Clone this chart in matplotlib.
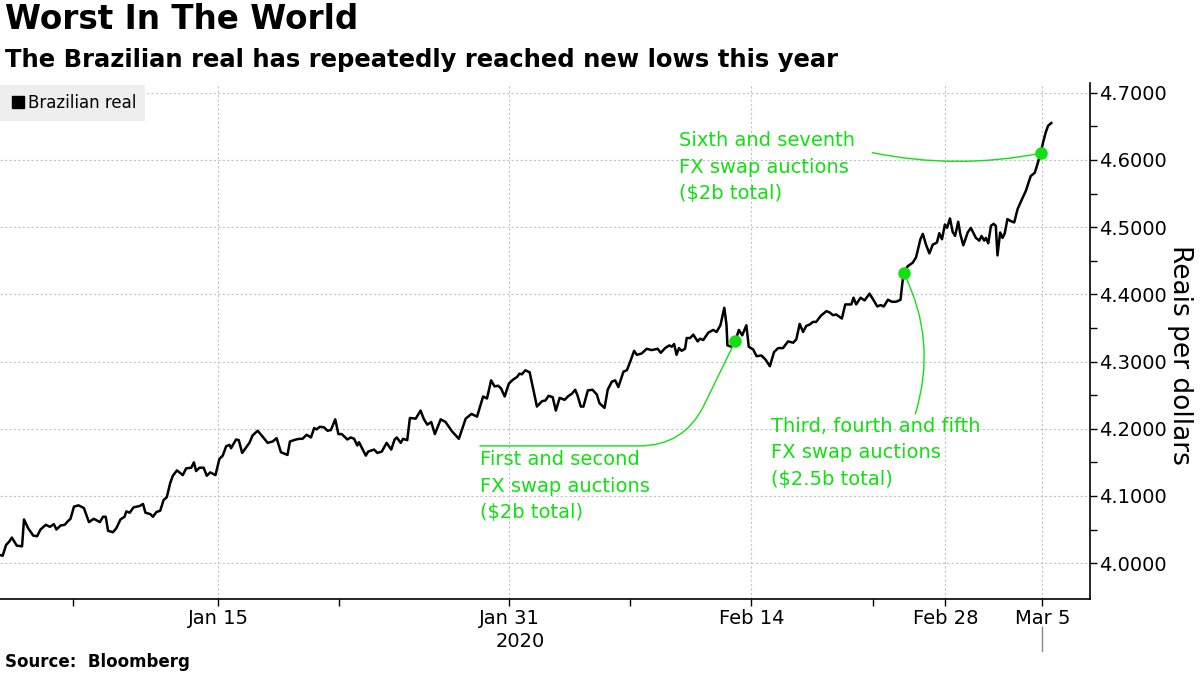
import matplotlib.pyplot as plt
from matplotlib.lines import Line2D
import matplotlib.transforms as mtransforms

# trading-day index (0 = Jan 2, weekends and Carnival skipped), reais per dollar
day = [0, 0.11, 0.25, 0.38, 0.49, 0.69, 0.91, 0.99, 1.16, 1.37, 1.53, 1.67, 1.89,
       2.06, 2.22, 2.33, 2.50, 2.67, 2.79, 2.91, 3.05, 3.24, 3.46, 3.67, 3.87,
       4.12, 4.25, 4.36, 4.46, 4.66, 4.80, 4.97, 5.14, 5.21, 5.35, 5.51, 5.76,
       5.90, 6.00, 6.20, 6.31, 6.45, 6.61, 6.75, 6.88, 7.02, 7.13, 7.30, 7.54,
       7.68, 7.89, 8.00, 8.09, 8.23, 8.40, 8.53, 8.67, 8.89, 9.05, 9.19, 9.33,
       9.47, 9.53, 9.74, 9.85, 9.99, 10.29, 10.42, 10.63, 10.84, 11.04, 11.25,
       11.41, 11.59, 11.86, 11.96, 12.21, 12.35, 12.48, 12.65, 12.83, 12.96,
       13.06, 13.20, 13.37, 13.51, 13.65, 13.83, 13.96, 14.10, 14.33, 14.47,
       14.61, 14.74, 14.81, 15.09, 15.19, 15.43, 15.57, 15.75, 15.95, 16.14,
       16.28, 16.37, 16.53, 16.63, 16.80, 16.91, 17.15, 17.35, 17.49, 17.63,
       17.79, 17.94, 18.18, 18.38, 18.65, 18.93, 19.21, 19.45, 19.68, 19.93,
       20.09, 20.26, 20.40, 20.55, 20.67, 20.82, 20.99, 21.16, 21.33, 21.43,
       21.53, 21.67, 21.85, 22.15, 22.36, 22.50, 22.63, 22.80, 22.93, 23.09,
       23.29, 23.46, 23.59, 23.73, 23.83, 23.96, 24.07, 24.25, 24.44, 24.62,
       24.73, 24.94, 25.07, 25.24, 25.38, 25.51, 25.72, 25.86, 26.00, 26.16,
       26.27, 26.47, 26.68, 26.88, 27.13, 27.26, 27.44, 27.61, 27.71, 27.81,
       27.91, 28.01, 28.12, 28.26, 28.33, 28.47, 28.60, 28.78, 28.88, 29.01,
       29.22, 29.42, 29.56, 29.72, 29.88, 29.97, 30.01, 30.18, 30.34, 30.48,
       30.62, 30.79, 30.89, 31.07, 31.21, 31.41, 31.58, 31.76, 31.93, 32.10,
       32.30, 32.51, 32.72, 32.85, 32.99, 33.13, 33.26, 33.40, 33.54, 33.67,
       33.86, 34.09, 34.23, 34.36, 34.50, 34.73, 34.87, 35.12, 35.21, 35.32,
       35.50, 35.67, 35.87, 36.01, 36.19, 36.33, 36.46, 36.63, 36.79, 36.97,
       37.15, 37.21, 37.28, 37.45, 37.65, 37.79, 37.97, 38.07, 38.20, 38.34,
       38.48, 38.65, 38.75, 38.86, 38.98, 39.07, 39.19, 39.30, 39.40, 39.53,
       39.62, 39.74, 39.92, 40.05, 40.26, 40.40, 40.49, 40.60, 40.67, 40.77,
       40.88, 40.99, 41.08, 41.15, 41.26, 41.36, 41.45, 41.56, 41.70, 41.84,
       41.98, 42.14, 42.32, 42.52, 42.69, 42.80, 42.93, 43.03, 43.14, 43.24, 43.37]
rate = [4.012, 4.011, 4.027, 4.032, 4.038, 4.026, 4.025, 4.065, 4.052, 4.041, 4.040, 4.050, 4.057,
        4.054, 4.058, 4.050, 4.056, 4.057, 4.062, 4.066, 4.084, 4.086, 4.082, 4.061, 4.066,
        4.061, 4.069, 4.069, 4.048, 4.046, 4.052, 4.065, 4.069, 4.077, 4.075, 4.083, 4.085,
        4.088, 4.075, 4.073, 4.069, 4.076, 4.078, 4.094, 4.098, 4.119, 4.130, 4.138, 4.131,
        4.141, 4.142, 4.150, 4.137, 4.142, 4.142, 4.130, 4.135, 4.131, 4.155, 4.160, 4.174,
        4.176, 4.171, 4.184, 4.183, 4.164, 4.179, 4.190, 4.197, 4.188, 4.179, 4.181,
        4.186, 4.165, 4.161, 4.181, 4.184, 4.185, 4.185, 4.191, 4.187, 4.201,
        4.199, 4.203, 4.202, 4.197, 4.198, 4.214, 4.192, 4.192, 4.184, 4.187,
        4.185, 4.175, 4.180, 4.160, 4.166, 4.169, 4.164, 4.166, 4.179, 4.169,
        4.184, 4.187, 4.179, 4.185, 4.183, 4.216, 4.215, 4.227, 4.214, 4.206,
        4.210, 4.192, 4.214, 4.210, 4.196, 4.185, 4.215, 4.222, 4.218, 4.248,
        4.245, 4.272, 4.263, 4.264, 4.260, 4.248, 4.267, 4.273, 4.277, 4.282,
        4.281, 4.287, 4.284, 4.233, 4.241, 4.242, 4.249, 4.247, 4.227, 4.246,
        4.243, 4.249, 4.252, 4.258, 4.249, 4.233, 4.233, 4.257, 4.258, 4.251,
        4.238, 4.231, 4.258, 4.270, 4.272, 4.262, 4.285, 4.287, 4.300, 4.316,
        4.310, 4.312, 4.319, 4.317, 4.319, 4.313, 4.320, 4.324, 4.322, 4.326,
        4.310, 4.320, 4.316, 4.319, 4.335, 4.335, 4.340, 4.330, 4.334, 4.332,
        4.343, 4.347, 4.344, 4.354, 4.380, 4.355, 4.324, 4.322, 4.331, 4.347,
        4.339, 4.354, 4.322, 4.318, 4.308, 4.309, 4.303, 4.293, 4.314, 4.320,
        4.320, 4.330, 4.328, 4.333, 4.356, 4.344, 4.353, 4.355, 4.359, 4.359,
        4.368, 4.375, 4.373, 4.369, 4.370, 4.364, 4.385, 4.385, 4.395, 4.385,
        4.395, 4.391, 4.401, 4.393, 4.382, 4.384, 4.382, 4.392, 4.389, 4.389,
        4.392, 4.412, 4.432, 4.442, 4.447, 4.455, 4.482, 4.490, 4.474, 4.461,
        4.474, 4.477, 4.491, 4.482, 4.504, 4.499, 4.513, 4.493, 4.487, 4.508,
        4.489, 4.473, 4.492, 4.499, 4.484, 4.480, 4.487, 4.480, 4.484, 4.476,
        4.502, 4.505, 4.502, 4.458, 4.492, 4.484, 4.491, 4.512, 4.509, 4.507,
        4.527, 4.540, 4.554, 4.576, 4.581, 4.594, 4.610, 4.626, 4.641, 4.651, 4.655]

# auction points (day, rate) and their labels
auction_day = [30.34, 37.28, 42.93]
auction_rate = [4.331, 4.432, 4.610]
auction_text = ['First and second\nFX swap auctions\n($2b total)',
                'Third, fourth and fifth\nFX swap auctions\n($2.5b total)',
                'Sixth and seventh\nFX swap auctions\n($2b total)']

tick_pos = [9, 21, 31, 39, 43]
tick_labels = ['Jan 15', 'Jan 31', 'Feb 14', 'Feb 28', 'Mar 5']
minor_pos = [3, 14, 26, 36]
yticks = [4.0, 4.1, 4.2, 4.3, 4.4, 4.5, 4.6, 4.7]

green = '#11e011'

fig = plt.figure(figsize=(12, 6.75), dpi=100)
ax = fig.add_axes([0, 0.112, 0.908, 0.765])

ax.plot(day, rate, color='black', lw=1.8, zorder=3)
ax.plot(auction_day, auction_rate, 'o', color=green, ms=8, zorder=4)

ax.set_xlim(0, 44.95)
ax.set_ylim(3.946, 4.7145)

ax.set_xticks(tick_pos)
ax.set_xticklabels(tick_labels)
ax.set_xticks(minor_pos, minor=True)
ax.set_yticks(yticks)
ax.set_yticks([4.05, 4.15, 4.25, 4.35, 4.45, 4.55, 4.65], minor=True)
ax.yaxis.set_major_formatter(plt.FormatStrFormatter('%.4f'))
ax.yaxis.tick_right()
ax.tick_params(axis='both', which='both', length=5, width=1, color='black')
ax.tick_params(axis='x', labelsize=14, pad=2)
ax.tick_params(axis='y', labelsize=14, pad=2)

ax.grid(True, which='major', color='#c4c4c4', linestyle=(0, (2, 2)), lw=0.8)
for s in ['top', 'left']:
    ax.spines[s].set_visible(False)
ax.spines['right'].set_linewidth(1.2)
ax.spines['bottom'].set_linewidth(1.2)

ax.set_ylabel('Reais per dollars', fontsize=19, rotation=270, labelpad=10)
ax.yaxis.set_label_position('right')
ax.yaxis.set_label_coords(1.095, 0.474)

trans = mtransforms.blended_transform_factory(ax.transData, ax.transAxes)
ax.text(21.45, -0.082, '2020', transform=trans, ha='center', va='center', fontsize=14)
ax.plot([43, 43], [-0.054, -0.10], transform=trans, color='#888888', lw=1, clip_on=False)

# annotations
ax.annotate(auction_text[0], xy=(auction_day[0], auction_rate[0]), xytext=(19.8, 4.168),
            fontsize=14, color=green, va='top', ha='left', linespacing=1.5,
            arrowprops=dict(arrowstyle='-', color=green, lw=1, shrinkA=0, shrinkB=0,
                            patchA=None, relpos=(0, 1.06),
                            connectionstyle='angle,angleA=0,angleB=64,rad=45'))
ax.annotate(auction_text[1], xy=(auction_day[1], auction_rate[1]), xytext=(31.8, 4.218),
            fontsize=14, color=green, va='top', ha='left', linespacing=1.5,
            arrowprops=dict(arrowstyle='-', color=green, lw=1, shrinkA=0, shrinkB=0,
                            patchA=None, relpos=(0.69, 1.04),
                            connectionstyle='arc3,rad=0.2'))
ax.annotate(auction_text[2], xy=(auction_day[2], auction_rate[2]), xytext=(28.0, 4.643),
            fontsize=14, color=green, va='top', ha='left', linespacing=1.5,
            arrowprops=dict(arrowstyle='-', color=green, lw=1, shrinkA=0, shrinkB=0,
                            patchA=None, relpos=(1.1, 0.7),
                            connectionstyle='arc3,rad=0.1'))

handle = Line2D([], [], marker='s', color='black', linestyle='none', markersize=9)
leg = ax.legend([handle], ['Brazilian real'], loc='upper left', bbox_to_anchor=(0, 0.997),
                borderaxespad=0, fontsize=12, frameon=True, facecolor='#eeeeee',
                edgecolor='none', fancybox=False, framealpha=1, handletextpad=0.1,
                handlelength=1.0, borderpad=0.55)

fig.text(0.004, 0.995, 'Worst In The World', fontsize=23.5, fontweight='bold', va='top')
fig.text(0.004, 0.929, 'The Brazilian real has repeatedly reached new lows this year',
         fontsize=17.5, fontweight='bold', va='top')
fig.text(0.004, 0.006, 'Source:  Bloomberg', fontsize=12, fontweight='bold', va='bottom')

fig.savefig('out.png', dpi=100)
